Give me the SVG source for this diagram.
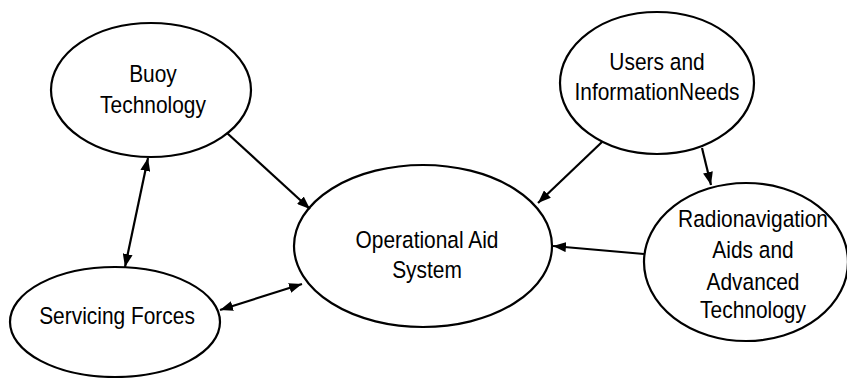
<svg xmlns="http://www.w3.org/2000/svg" width="847" height="378" viewBox="0 0 847 378">
<defs>
<marker id="ah" viewBox="0 0 13 10" refX="13" refY="5" markerWidth="13" markerHeight="10" markerUnits="userSpaceOnUse" orient="auto-start-reverse">
<path d="M0,0 L13,5 L0,10 Z" fill="#000"/>
</marker>
</defs>
<style>
.n{fill:#fff;stroke:#000;stroke-width:2.2}
.t{font-family:"Liberation Sans",Arial,sans-serif;font-size:23.5px;fill:#000;text-anchor:middle}
.c{stroke:#000;stroke-width:2.2;fill:none}
</style>
<rect width="847" height="378" fill="#fff"/>
<g id="buoy">
<ellipse class="n" cx="151" cy="90" rx="100" ry="67"/>
<g transform="translate(153,0) scale(0.89,1)">
<text class="t" x="0" y="82">Buoy</text>
<text class="t" x="0" y="113">Technology</text>
</g>
</g>
<g id="servicing">
<ellipse class="n" cx="115" cy="322" rx="105" ry="55"/>
<g transform="translate(117,0) scale(0.89,1)">
<text class="t" x="0" y="324">Servicing Forces</text>
</g>
</g>
<g id="operational">
<ellipse class="n" cx="423" cy="246" rx="129" ry="81"/>
<g transform="translate(427,0) scale(0.89,1)">
<text class="t" x="0" y="248">Operational Aid</text>
<text class="t" x="0" y="278">System</text>
</g>
</g>
<g id="users">
<ellipse class="n" cx="657" cy="83" rx="97" ry="71"/>
<g transform="translate(657,0) scale(0.89,1)">
<text class="t" x="0" y="70">Users and</text>
<text class="t" x="0" y="100">InformationNeeds</text>
</g>
</g>
<g id="radionav">
<ellipse class="n" cx="746" cy="262" rx="102" ry="79"/>
<g transform="translate(753,0) scale(0.89,1)">
<text class="t" x="0" y="227">Radionavigation</text>
<text class="t" x="0" y="258">Aids and</text>
<text class="t" x="0" y="290">Advanced</text>
<text class="t" x="0" y="318">Technology</text>
</g>
</g>
<g id="connectors">
<line class="c" x1="227" y1="133" x2="310" y2="209" marker-end="url(#ah)"/>
<line class="c" x1="148" y1="158" x2="125" y2="267" marker-start="url(#ah)" marker-end="url(#ah)"/>
<line class="c" x1="220" y1="310" x2="302" y2="284" marker-start="url(#ah)" marker-end="url(#ah)"/>
<line class="c" x1="602" y1="142" x2="538" y2="203" marker-end="url(#ah)"/>
<line class="c" x1="702" y1="148" x2="711" y2="185" marker-end="url(#ah)"/>
<line class="c" x1="644" y1="254" x2="553" y2="246" marker-end="url(#ah)"/>
</g>
</svg>
